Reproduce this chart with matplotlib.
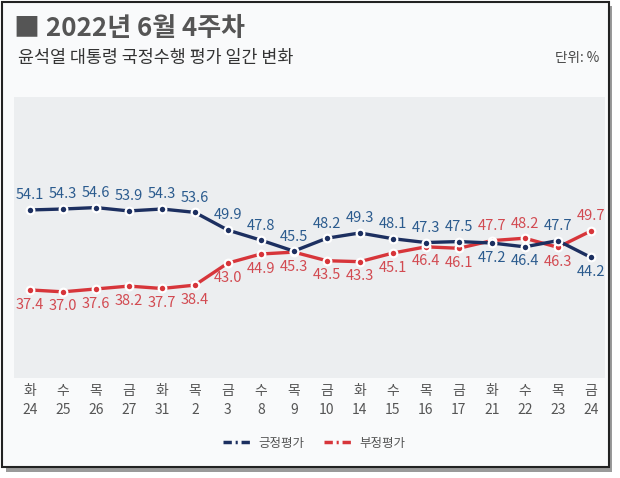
import matplotlib
matplotlib.use("Agg")
import matplotlib.pyplot as plt
from matplotlib.lines import Line2D
from matplotlib.patches import Rectangle

plt.rcParams['font.family'] = ['Noto Sans CJK KR', 'DejaVu Sans']

weekdays = ["화", "수", "목", "금", "화", "목", "금", "수", "목", "금",
            "화", "수", "목", "금", "화", "수", "목", "금"]
days = [24, 25, 26, 27, 31, 2, 3, 8, 9, 10, 14, 15, 16, 17, 21, 22, 23, 24]
pos = [54.1, 54.3, 54.6, 53.9, 54.3, 53.6, 49.9, 47.8, 45.5, 48.2,
       49.3, 48.1, 47.3, 47.5, 47.2, 46.4, 47.7, 44.2]
neg = [37.4, 37.0, 37.6, 38.2, 37.7, 38.4, 43.0, 44.9, 45.3, 43.5,
       43.3, 45.1, 46.4, 46.1, 47.7, 48.2, 46.3, 49.7]

c_pos = "#1c2f60"
c_pos_txt = "#2b5b8e"
c_neg = "#d7353a"
c_neg_txt = "#d24a51"

fig = plt.figure(figsize=(6.2, 4.78), dpi=100)
fig.patch.set_facecolor("white")

# frame + shadow
W, H = 620, 478
fig.patches.append(Rectangle((6 / W, 1 - 472 / H), 606 / W, 466 / H, transform=fig.transFigure,
                             facecolor="#9a9a9a", edgecolor="none", zorder=-3))
fig.patches.append(Rectangle((2 / W, 1 - 467 / H), 607 / W, 465 / H, transform=fig.transFigure,
                             facecolor="#f9fafb", edgecolor="#222222", lw=1.5, zorder=-2))

ax = fig.add_axes([14 / W, 1 - 378 / H, 591 / W, 281 / H])
ax.set_facecolor("#eceef0")
for s in ax.spines.values():
    s.set_visible(False)

x = list(range(len(days)))
ax.plot(x, neg, color=c_neg, lw=2.4, marker="o", ms=5.5, mfc=c_neg, mec="white", mew=1.6, zorder=3)
ax.plot(x, pos, color=c_pos, lw=2.4, marker="o", ms=5.5, mfc=c_pos, mec="white", mew=1.6, zorder=4)

for i in x:
    up = pos[i] >= neg[i]
    ax.annotate(f"{pos[i]:.1f}", (i, pos[i]), xytext=(0, 10.5 if up else -10.5), textcoords="offset points",
                ha="center", va="center", fontsize=10.5, color=c_pos_txt)
    ax.annotate(f"{neg[i]:.1f}", (i, neg[i]), xytext=(0, -10.5 if up else 10.5), textcoords="offset points",
                ha="center", va="center", fontsize=10.5, color=c_neg_txt)

ax.set_xlim(-0.48, 17.43)
ax.set_ylim(19, 77.7)
ax.set_yticks([])
ax.set_xticks(x)
ax.set_xticklabels([f"{w}\n{d}" for w, d in zip(weekdays, days)], fontsize=10, color="#555555",
                   linespacing=1.5)
ax.tick_params(axis="x", length=0, pad=4)

fig.text(14 / W, 1 - 28 / H, "■ 2022년 6월 4주차", fontsize=18.7, fontweight="bold", color="#555555",
         va="center", ha="left")
fig.text(18 / W, 1 - 58 / H, "윤석열 대통령 국정수행 평가 일간 변화", fontsize=12.5, color="#333333",
         va="center", ha="left")
fig.text(599 / W, 1 - 58 / H, "단위: %", fontsize=9.8, color="#444444", va="center", ha="right")

dash = (0, (2.4, 1.1, 0.6, 1.1))
handles = [Line2D([], [], color=c_pos, lw=2.5, linestyle=dash),
           Line2D([], [], color=c_neg, lw=2.5, linestyle=dash)]
fig.legend(handles, ["긍정평가", "부정평가"], loc="center", bbox_to_anchor=(314 / W, 1 - 443 / H),
           ncol=2, frameon=False, fontsize=9, handlelength=2.2, columnspacing=1.6, handletextpad=0.6,
           labelcolor="#555555")

fig.savefig("out.png", dpi=100)
